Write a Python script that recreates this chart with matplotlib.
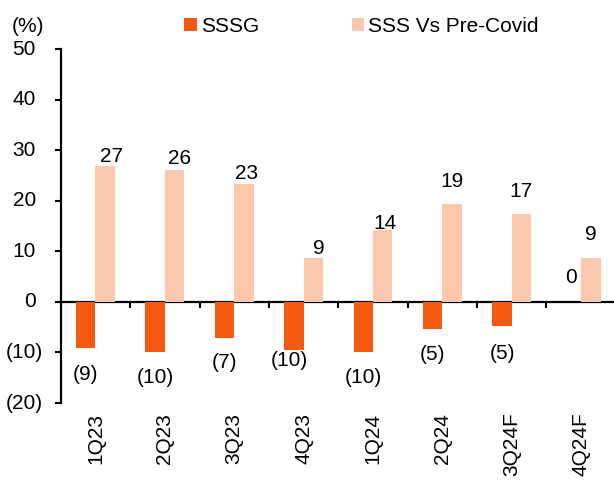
import matplotlib
matplotlib.use("Agg")
import matplotlib.pyplot as plt

# data
quarters = ["1Q23", "2Q23", "3Q23", "4Q23", "1Q24", "2Q24", "3Q24F", "4Q24F"]
sssg = [-9.1, -9.9, -7.1, -9.5, -9.9, -5.3, -4.8, 0.0]
sss_vs_precovid = [26.9, 26.1, 23.3, 8.6, 14.3, 19.3, 17.3, 8.6]
yticks = [-20, -10, 0, 10, 20, 30, 40, 50]

# label nudges in pixels (dx, dy from bar end to label centre)
sssg_lbl_dx = [0, 0, 0, -5, 0, 0, 0, 0]
sssg_lbl_dy = [-27, -26, -25, -11, -26, -26, -27, 24]
pre_lbl_dx = [6, 5, 2.5, 5, 2, 0, 0, 0]
pre_lbl_dy = [9, 11, 11, 10, 6, 23, 23, 24]

ORANGE = "#F55A10"
PEACH = "#FBC8AE"

plt.rcParams["font.family"] = ["Liberation Sans", "DejaVu Sans"]
plt.rcParams["font.size"] = 15

fig = plt.figure(figsize=(6.14, 4.8), dpi=100)
ax = fig.add_axes([0.099, 0.1604, 0.904, 0.7375])

w = 0.28
x = list(range(len(quarters)))
ax.bar([i - w / 2 for i in x], sssg, width=w, color=ORANGE, label="SSSG")
ax.bar([i + w / 2 for i in x], sss_vs_precovid, width=w, color=PEACH,
       label="SSS Vs Pre-Covid")

px = 0.72  # points per pixel at 100 dpi


def fmt(v):
    r = round(v)
    return f"({abs(r)})" if r < 0 else f"{r}"


for i, v in enumerate(sssg):
    ax.annotate(fmt(v), (i - w / 2, v), xytext=(sssg_lbl_dx[i] * px, sssg_lbl_dy[i] * px),
                textcoords="offset points", ha="center", va="center")
for i, v in enumerate(sss_vs_precovid):
    ax.annotate(fmt(v), (i + w / 2, v), xytext=(pre_lbl_dx[i] * px, pre_lbl_dy[i] * px),
                textcoords="offset points", ha="center", va="center")

ax.set_xlim(-0.5, len(quarters) - 0.5)
ax.set_ylim(-20, 50)
ax.set_yticks(yticks, labels=[])
ax.set_xticks(x, labels=quarters, rotation=90)
ax.tick_params(axis="x", length=0, pad=7)
ax.tick_params(axis="y", direction="out", length=4.5, width=1.5)

# y labels, Excel style: non-negative numbers leave room for a ")"
for t in yticks:
    off = -18 if t < 0 else -25
    ax.annotate(fmt(t), (0, t), xycoords=("axes fraction", "data"),
                xytext=(off * px, 0), textcoords="offset points",
                ha="right", va="center")

for s in ["top", "right", "bottom"]:
    ax.spines[s].set_visible(False)
ax.spines["left"].set_linewidth(1.6)

# zero line with category boundary ticks
zero_pos = (0 - (-20)) / (50 - (-20))
sec = ax.secondary_xaxis(zero_pos)
sec.set_xticks([i + 0.5 for i in x[:-1]], labels=[])
sec.tick_params(direction="out", length=4, width=1.5)
for s in sec.spines.values():
    s.set_linewidth(1.6)

fig.text(28 / 614, 1 - 26 / 480, "(%)", ha="center", va="center")
fig.legend(loc="center left", bbox_to_anchor=(184 / 614, 1 - 26 / 480),
           ncol=2, frameon=False, borderpad=0, handlelength=0.6, handleheight=0.6,
           handletextpad=0.2, columnspacing=4.45, borderaxespad=0)

fig.savefig("out.png", dpi=100)
